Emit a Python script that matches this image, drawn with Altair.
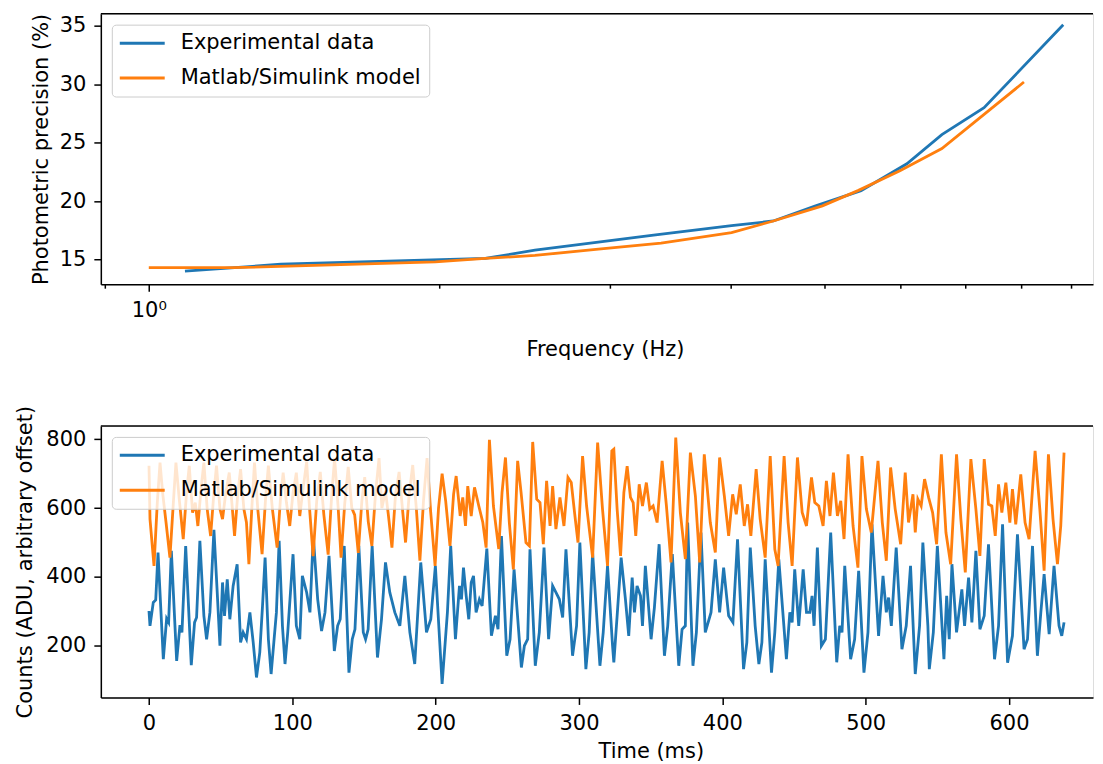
import altair as alt
import pandas as pd

# ---------------- data: top panel (precision vs frequency) ----------------
freq_exp = [1.09, 1.37, 2.23, 2.51, 3.33, 4.01, 4.43, 4.90, 5.46, 6.09, 6.62, 7.32, 8.84]
prec_exp = [14.0, 14.6, 15.1, 15.8, 17.1, 17.9, 18.3, 19.6, 20.9, 23.2, 25.7, 28.0, 35.1]
freq_model = [1.0, 1.22, 1.98, 2.23, 2.51, 2.92, 3.39, 4.01, 4.43, 4.98, 5.42, 5.99, 6.62, 8.05]
prec_model = [14.3, 14.3, 14.8, 15.1, 15.35, 15.9, 16.4, 17.3, 18.3, 19.6, 20.9, 22.6, 24.5, 30.2]

# ---------------- data: bottom panel (counts vs time) ----------------
t_exp = [0, 0.7, 3.0, 4.7, 6.3, 10.0, 12.3, 13.7, 15.6, 19.3, 21.6, 23.0, 25.6, 29.5, 31.8, 33.2, 35.5, 38.3,
         40.2, 42.5, 45.3, 47.6, 49.5, 51.3, 52.7, 54.6, 56.4, 58.7, 61.5, 63.9, 65.7, 68.0, 70.4, 72.7, 75.0,
         77.3, 79.2, 81.0, 83.3, 85.2, 87.1, 88.9, 90.8, 93.1, 94.9, 96.8, 98.7, 100.5, 102.8, 105.2,
         107.0, 110.0, 112.3, 114.6, 117.7, 120.4, 122.8, 125.6, 129.3, 131.6, 133.4, 136.2, 139.5, 141.8,
         143.7, 146.4, 149.5, 151.1, 152.9, 155.7, 159.4, 162.2, 165.0, 168.0, 171.5, 175.0, 178.5, 182.0,
         185.4, 189.6, 193.6, 196.6, 199.8, 204.5, 208.2, 210.5, 213.8,
         216.6, 218.0, 219.4, 221.3, 223.1, 224.8, 226.4, 228.2, 230.5, 232.4, 235.7, 238.9, 241.7, 243.5,
         245.9, 249.6, 251.9, 254.7, 259.8, 261.9, 264.2, 265.8, 269.5, 272.3, 275.6, 278.8, 281.6, 283.9,
         286.3, 288.6, 290.9, 295.5, 298.3, 300.6, 304.8, 307.1, 309.5, 314.6, 316.9, 319.9, 323.4,
         324.3, 326.6, 329.4, 332.4, 334.7, 337.1, 338.7, 340.5, 342.9, 344.3, 346.3, 350.3, 352.6, 355.9,
         359.6, 361.9, 365.1, 369.6, 371.9, 374.2, 375.8, 379.5, 381.9, 385.1, 388.1, 392.1, 395.1, 398.1,
         400.9, 404.4, 407.4, 410.6, 414.8, 417.1, 419.5, 422.9, 425.5, 427.6, 429.9, 434.3,
         436.6, 439.4, 444.7, 447.1, 448.7, 450.5, 453.3, 456.4, 458.7, 461.0, 462.6, 464.0, 466.3, 469.1,
         471.9, 475.6, 479.8, 481.9, 483.5, 485.4, 489.5, 492.3, 495.1, 498.8, 501.6, 504.4, 509.0, 512.1,
         514.4, 516.0, 517.9, 521.3, 525.3, 528.3, 531.3, 534.6, 537.6, 539.9, 543.4,
         544.4, 547.2, 550.0, 554.6, 556.5, 558.3, 560.2, 563.4, 567.1, 569.0, 571.8, 574.1, 576.9, 579.7,
         582.7, 585.7, 589.9, 592.7, 595.5, 599.0, 602.4, 605.9, 610.5, 612.9, 616.4, 619.8, 622.2, 624.5,
         628.0, 631.4, 634.9, 636.8, 638.4]
counts_exp = [301, 258, 326, 333, 471, 161, 279, 268, 476, 156, 260, 239, 490, 144, 268, 282, 505, 287,
              219, 297, 537, 355, 200, 384, 287, 393, 277, 374, 437, 210, 239, 219, 297, 210, 108,
              181, 316, 456, 219, 118, 210, 297, 505, 258, 147, 239, 355, 466, 258, 219,
              403, 355, 297, 519, 335, 243, 297, 461, 185, 258, 277, 490, 122, 219,
              248, 490, 239, 219, 248, 490, 166, 277, 442, 355, 297, 258, 403, 239,
              147, 442, 239, 277, 432, 89, 297, 490, 219,
              374, 335, 427, 345, 277, 384, 403, 297, 335, 316, 482, 229, 287, 248,
              519, 171, 219, 422, 137, 200, 219, 480, 142, 239, 485, 219, 374, 355,
              335, 282, 480, 171, 258, 500, 132, 239, 471, 142, 239, 432, 200,
              152, 287, 456, 335, 229, 398, 297, 374, 345, 258, 432, 219, 311, 495,
              171, 258, 466, 142, 248, 258, 558, 142, 239, 529, 239, 297, 451, 297,
              427, 287, 268, 509, 132, 210, 485, 258, 147, 210, 451, 122,
              239, 451, 161, 297, 268, 422, 258, 422, 297, 297, 345, 258, 485, 200,
              219, 529, 152, 258, 239, 432, 161, 219, 418, 122, 239, 553, 229, 403,
              297, 340, 258, 485, 190, 258, 432, 118, 258, 500, 258,
              132, 239, 490, 161, 345, 219, 437, 239, 364, 258, 398, 268, 476, 248,
              287, 495, 161, 258, 553, 151, 229, 524, 190, 219, 490, 171, 297, 408,
              234, 432, 258, 229, 268]

t_model = [0, 0.7, 3.5, 5.8, 7.7, 9.5, 11.9, 14.6, 17.0, 18.8, 21.1, 23.9, 26.2, 28.1, 30.4, 32.3, 34.1,
           36.5, 38.3, 40.6, 43.0, 45.3, 47.1, 49.5, 51.3, 53.6, 56.0, 57.8, 59.7, 62.0, 63.9, 66.2, 68.0,
           69.7, 71.7, 73.6, 75.9, 78.9, 81.3, 83.3, 86.1, 89.4, 91.7, 93.6, 95.9, 98.2, 100.5, 102.8, 105.2,
           107.0, 110.0, 112.0, 114.5, 117.0, 119.5, 122.0, 125.0, 127.5, 129.5, 132.0, 134.0, 136.5, 139.0,
           141.5, 143.5, 146.0, 148.5, 150.5, 153.0, 155.5, 158.0, 160.5, 162.5, 165.0, 167.0, 169.5, 172.0,
           174.5, 177.0, 179.0, 181.5, 184.0, 186.5, 189.0, 191.5, 194.0, 196.5, 199.6, 202.0, 204.5, 207.0,
           210.0, 212.5,
           214.3, 216.2, 217.1, 218.9, 220.8, 222.4, 224.8, 227.1, 230.1, 232.9, 235.2, 237.5, 240.3, 244.0,
           246.3, 248.7, 251.4, 254.2, 257.2, 259.6, 263.0, 265.4, 267.7, 270.5, 272.8, 275.1, 277.4, 279.8,
           281.6, 283.9, 286.7, 289.5, 292.3, 294.6, 296.9, 299.3, 302.5, 305.3, 309.5, 313.0, 316.4, 319.9,
           322.9,
           324.3, 326.6, 329.0, 331.3, 333.6, 335.9, 337.8, 339.6, 342.0, 344.3, 347.0, 349.4, 351.7, 354.5,
           358.0, 361.0, 364.2, 367.5, 370.7, 374.2, 377.7, 381.2, 384.2, 387.4, 391.6, 395.1, 398.1, 401.4,
           404.4, 407.2, 409.7, 412.5, 415.3, 417.6, 419.9, 423.6, 426.4, 429.9, 433.4,
           436.6, 438.9, 443.1, 445.9, 448.7, 452.4, 455.7, 458.7, 462.2, 464.5, 467.3, 470.3, 472.6, 475.1,
           477.5, 480.3, 482.6, 484.9, 487.7, 491.2, 494.6, 497.4, 500.5, 503.9, 508.6, 511.6, 514.4, 517.4,
           520.6, 524.4, 527.6, 529.9, 533.0, 534.6, 536.4, 538.7, 541.1, 543.9,
           546.7, 549.5, 552.8, 556.0, 559.3, 563.4, 566.4, 569.5, 573.4, 576.9, 579.7, 582.7, 585.7, 588.0,
           590.4, 592.7, 595.0, 597.8, 600.6, 602.4, 604.7, 608.2, 611.2, 614.0, 618.2, 621.5, 624.5, 627.5,
           630.7, 633.8, 636.1, 638.4]
counts_model = [723, 568, 432, 616, 732, 645, 558, 456, 616, 732, 626, 510, 645, 723, 587, 616, 548,
                664, 732, 597, 519, 645, 723, 597, 568, 645, 703, 616, 519, 645, 713, 597, 558,
                437, 597, 732, 597, 466, 626, 723, 597, 485, 626, 703, 616, 548, 645, 703, 577,
                640, 735, 600, 460, 620, 705, 580, 465, 640, 745, 600, 456, 610, 720,
                600, 580, 470, 620, 690, 560, 490, 640, 745, 600, 650, 580, 485, 640,
                705, 590, 500, 640, 725, 600, 447, 620, 745, 590, 432, 600, 700, 620,
                490, 640,
                693, 616, 577, 631, 548, 664, 577, 660, 606, 558, 485, 798, 606, 481,
                645, 747, 558, 422, 737, 645, 500, 490, 792, 626, 616, 495, 679, 548,
                664, 539, 631, 548, 689, 674, 587, 500, 751, 606, 456, 790, 597, 432,
                766,
                771, 597, 461, 645, 722, 631, 616, 519, 669, 606, 674, 597, 606, 558,
                737, 606, 442, 805, 587, 452, 761, 635, 442, 756, 558, 471, 747, 635,
                519, 640, 582, 669, 548, 611, 519, 713, 568, 456, 751,
                480, 432, 751, 558, 432, 747, 587, 548, 689, 616, 606, 548, 679, 577,
                703, 577, 621, 510, 756, 548, 427, 751, 597, 529, 737, 558, 447, 718,
                597, 495, 703, 558, 640, 529, 626, 606, 684, 631,
                587, 495, 756, 529, 437, 756, 568, 413, 742, 597, 461, 742, 611, 606,
                519, 669, 587, 674, 558, 655, 553, 698, 558, 510, 766, 597, 418, 756,
                568, 437, 548, 761]

S1 = "Experimental data"
S2 = "Matlab/Simulink model"
COLORS = ["#1f77b4", "#ff7f0e"]

top_df = pd.DataFrame({
    "f": freq_exp + freq_model,
    "p": prec_exp + prec_model,
    "s": [S1] * len(freq_exp) + [S2] * len(freq_model),
})
bot_df = pd.DataFrame({
    "t": t_exp + t_model,
    "c": counts_exp + counts_model,
    "s": [S1] * len(t_exp) + [S2] * len(t_model),
})
frame_df = pd.DataFrame({"k": [0]})

FONT = "DejaVu Sans"
FS = 21
W = 994
H1 = 271
H2 = 272

axis_common = dict(domainColor="black", domainWidth=1.5, tickColor="black", tickWidth=1.5,
                   labelColor="black", titleColor="black", labelFont=FONT, titleFont=FONT,
                   labelFontSize=FS, titleFontSize=FS, titleFontWeight="normal", grid=False,
                   labelPadding=8)


def make_legend():
    return alt.Legend(title=None, orient="top-left", offset=11, padding=8, rowPadding=13,
                      fillColor="rgba(255,255,255,0.8)", strokeColor="#cccccc", cornerRadius=4,
                      symbolType="M-1.1667,0H3.8333", symbolSize=324, symbolStrokeWidth=3,
                      labelOffset=40, labelFontSize=FS, labelFont=FONT, labelColor="black",
                      labelLimit=500, zindex=1)


color_scale = alt.Scale(domain=[S1, S2], range=COLORS)

top_lines = alt.Chart(top_df).mark_line(strokeWidth=2.8).encode(
    x=alt.X("f:Q",
            scale=alt.Scale(type="log", domain=[0.892, 9.49], nice=False, zero=False),
            axis=alt.Axis(values=[0.9, 1, 2, 3, 4, 5, 6, 7, 8, 9],
                          labelExpr="datum.value == 1 ? '10⁰' : ''",
                          tickSize={"condition": {"test": "datum.value == 1", "value": 7}, "value": 4},
                          labelOverlap=False, labelFlush=False,
                          title="Frequency (Hz)", titlePadding=18, titleX=505, **axis_common)),
    y=alt.Y("p:Q", scale=alt.Scale(domain=[12.89, 36.05], nice=False, zero=False),
            axis=alt.Axis(values=[15, 20, 25, 30, 35], title="Photometric precision (%)",
                          titlePadding=8, tickSize=7, **axis_common)),
    color=alt.Color("s:N", scale=color_scale, legend=make_legend()),
)
top_frame = alt.Chart(frame_df).mark_rule(color="black", strokeWidth=1.5).encode(
    x=alt.value(0), x2=alt.value(W), y=alt.value(0))
top = alt.layer(top_lines, top_frame).properties(width=W, height=H1)

bot_lines = alt.Chart(bot_df).mark_line(strokeWidth=2.8).encode(
    x=alt.X("t:Q", scale=alt.Scale(domain=[-33.6, 658.6], nice=False, zero=False),
            axis=alt.Axis(values=[0, 100, 200, 300, 400, 500, 600], title="Time (ms)",
                          titlePadding=7, titleX=551, tickSize=7, **axis_common)),
    y=alt.Y("c:Q", scale=alt.Scale(domain=[50, 838.6], nice=False, zero=False),
            axis=alt.Axis(values=[200, 400, 600, 800], title="Counts (ADU, arbitrary offset)",
                          titlePadding=10, tickSize=7, **axis_common)),
    color=alt.Color("s:N", scale=color_scale, legend=make_legend()),
)
bot_frame = alt.Chart(frame_df).mark_rule(color="black", strokeWidth=1.5).encode(
    x=alt.value(0), x2=alt.value(W), y=alt.value(0))
bottom = alt.layer(bot_lines, bot_frame).properties(width=W, height=H2)

chart = alt.vconcat(top, bottom, spacing=44).resolve_scale(
    x="independent", y="independent", color="independent"
).resolve_legend(color="independent").properties(
    padding={"left": 6, "top": 3, "right": 0, "bottom": 0},
    background="white",
).configure_view(stroke=None).configure(font=FONT)

chart.save("out.html", embed_options={"renderer": "svg", "actions": False})
